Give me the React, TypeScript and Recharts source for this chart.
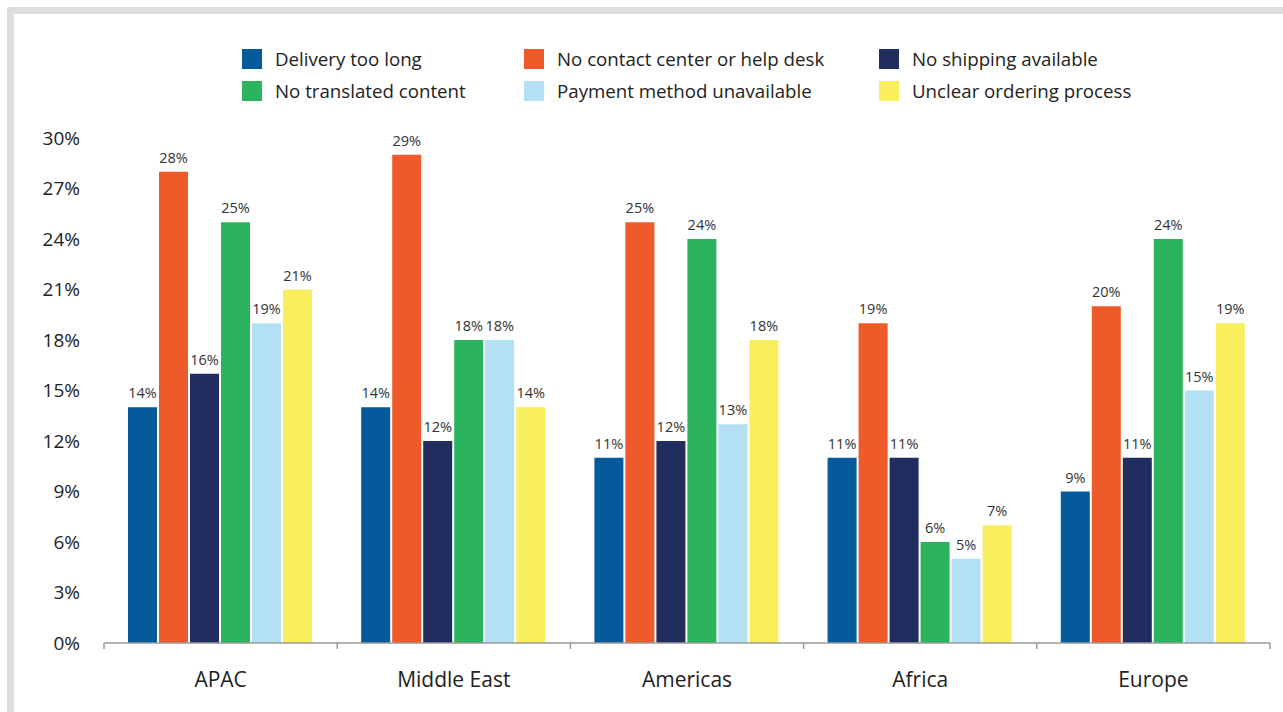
import { BarChart, Bar, XAxis, YAxis, Legend, LabelList } from "recharts"

const regions = ["APAC", "Middle East", "Americas", "Africa", "Europe"]
const seriesNames = [
  "Delivery too long",
  "No contact center or help desk",
  "No shipping available",
  "No translated content",
  "Payment method unavailable",
  "Unclear ordering process",
]
const seriesColors = ["#045a9b", "#ee5a29", "#1f2e5e", "#2bb45d", "#b4e0f3", "#f9ef5e"]

const deliveryTooLong = [14, 14, 11, 11, 9]
const noContactCenter = [28, 29, 25, 19, 20]
const noShipping = [16, 12, 12, 11, 11]
const noTranslated = [25, 18, 24, 6, 24]
const paymentUnavailable = [19, 18, 13, 5, 15]
const unclearOrdering = [21, 14, 18, 7, 19]

const yTicks = [0, 3, 6, 9, 12, 15, 18, 21, 24, 27, 30]

const seriesValues = [
  deliveryTooLong,
  noContactCenter,
  noShipping,
  noTranslated,
  paymentUnavailable,
  unclearOrdering,
]

const data = regions.map((region, i) => {
  const row: Record<string, string | number> = { region }
  seriesNames.forEach((name, s) => {
    row[name] = seriesValues[s][i]
  })
  return row
})

const FONT = "'Open Sans', sans-serif"
const WIDTH = 1283
const HEIGHT = 712
const LEGEND_HEIGHT = 70
const X_AXIS_HEIGHT = 30
// legend and x-axis heights get added on top of the margin by recharts
const MARGIN = { top: 138 - LEGEND_HEIGHT, right: 13, bottom: 69 - X_AXIS_HEIGHT, left: 44 }
const Y_AXIS_WIDTH = 60
const X_TICK_MARGIN = 28
const band = (WIDTH - MARGIN.left - Y_AXIS_WIDTH - MARGIN.right) / regions.length

function RegionTick({ x, y, payload, index }: { x?: number; y?: number; payload?: { value: string }; index?: number }) {
  if (x == null || y == null || !payload) return null
  const axisY = y - X_TICK_MARGIN
  const left = x - band / 2
  const right = x + band / 2
  return (
    <g>
      <line x1={left} x2={left} y1={axisY} y2={axisY + 6} stroke="#9a9a9a" strokeWidth={1.5} />
      {index === regions.length - 1 && (
        <line x1={right} x2={right} y1={axisY} y2={axisY + 6} stroke="#9a9a9a" strokeWidth={1.5} />
      )}
      <text x={x} y={y} dy={16} textAnchor="middle" fill="#222" fontSize={21} fontFamily={FONT}>
        {payload.value}
      </text>
    </g>
  )
}

function LegendGrid() {
  const colX = [0, 282, 637]
  return (
    <div style={{ position: "relative", width: 960, height: LEGEND_HEIGHT }}>
      {seriesNames.map((name, i) => {
        const col = i % 3
        const row = Math.floor(i / 3)
        return (
          <div
            key={name}
            style={{
              position: "absolute",
              left: colX[col],
              top: row * 32,
              display: "flex",
              alignItems: "center",
              fontFamily: FONT,
              fontSize: 18.7,
              color: "#222",
              whiteSpace: "nowrap",
            }}
          >
            <span style={{ display: "inline-block", width: 20, height: 20, background: seriesColors[i], marginRight: 13 }} />
            {name}
          </div>
        )
      })}
    </div>
  )
}

export default function App() {
  return (
    <div style={{ position: "absolute", left: 0, top: 0, width: WIDTH, height: HEIGHT, overflow: "hidden", background: "#fff" }}>
      <div
        style={{
          position: "absolute",
          left: 7,
          top: 7,
          width: 1300,
          height: 716,
          border: "7px solid #dcdcdc",
          borderRadius: 3,
          boxSizing: "border-box",
        }}
      />
      <div style={{ position: "absolute", left: 0, top: 0 }}>
        <BarChart width={WIDTH} height={HEIGHT} data={data} margin={MARGIN} barCategoryGap={24} barGap={2}>
          <XAxis
            dataKey="region"
            height={X_AXIS_HEIGHT}
            axisLine={{ stroke: "#9a9a9a", strokeWidth: 1.5 }}
            tickLine={false}
            tickSize={0}
            tickMargin={X_TICK_MARGIN}
            interval={0}
            tick={<RegionTick />}
          />
          <YAxis
            width={Y_AXIS_WIDTH}
            domain={[0, 30]}
            ticks={yTicks}
            interval={0}
            axisLine={false}
            tickLine={false}
            tickSize={0}
            tickMargin={24}
            tickFormatter={(v: number) => `${v}%`}
            tick={{ fill: "#222", fontSize: 19, fontFamily: FONT }}
          />
          <Legend
            verticalAlign="top"
            height={LEGEND_HEIGHT}
            content={() => <LegendGrid />}
            wrapperStyle={{ position: "absolute", top: 46, left: 242, width: 960 }}
          />
          {seriesNames.map((name, i) => (
            <Bar key={name} dataKey={name} fill={seriesColors[i]} isAnimationActive={false}>
              <LabelList
                dataKey={name}
                position="top"
                offset={9}
                formatter={(v: number) => `${v}%`}
                style={{ fill: "#333", fontSize: 14.5, fontFamily: FONT }}
              />
            </Bar>
          ))}
        </BarChart>
      </div>
    </div>
  )
}
